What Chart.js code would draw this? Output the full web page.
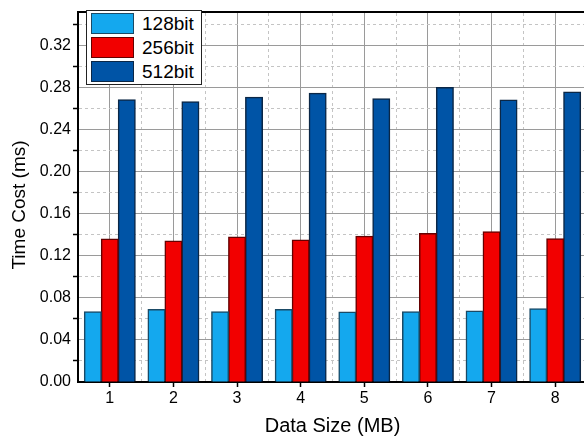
<!DOCTYPE html>
<html>
<head>
<meta charset="utf-8">
<script src="https://cdn.jsdelivr.net/npm/chart.js@4"></script>
<style>
    html, body { margin: 0; padding: 0; background: #fff; overflow: hidden; }
    #wrap { position: relative; width: 584px; height: 438px; overflow: hidden; }
    #chart { position: absolute; left: 0; top: 0; }
    #legend {
        position: absolute; left: 86px; top: 10px; width: 116px; height: 75px;
        border: 1px solid #222; background: #fff; box-sizing: border-box;
        font-family: 'Liberation Sans', Arial, sans-serif; font-size: 19px; color: #000;
    }
    .leg-row { position: absolute; left: 4px; height: 21px; display: flex; align-items: center; }
    .leg-box { width: 43px; height: 21px; box-sizing: border-box; border: 1.5px solid #222; }
    .leg-text { margin-left: 8px; line-height: 21px; }
</style>
</head>
<body>
<div id="wrap">
    <canvas id="chart" width="588" height="438"></canvas>
    <div id="legend"></div>
</div>
<script>
// Data
const categories = ['1', '2', '3', '4', '5', '6', '7', '8'];
const bit128 = [0.0668, 0.0690, 0.0668, 0.0690, 0.0665, 0.0668, 0.0675, 0.0697];
const bit256 = [0.1359, 0.1340, 0.1378, 0.1350, 0.1384, 0.1412, 0.1428, 0.1362];
const bit512 = [0.2682, 0.2664, 0.2705, 0.2745, 0.2692, 0.2799, 0.2680, 0.2757];
const seriesNames = ['128bit', '256bit', '512bit'];

const FONT = "'Liberation Sans', Arial, sans-serif";
const fills = ['#14A8EE', '#F20000', '#0054A6'];
const edges = ['#1a4a66', '#650000', '#0b2746'];

function isMajor(v) {
    const q = v / 0.04;
    return Math.abs(q - Math.round(q)) < 1e-6;
}

// y title drawn by hand so it can sit a bit below the axis centre, like the original
const yTitle = {
    id: 'yTitle',
    afterDraw(chart) {
        const ctx = chart.ctx;
        ctx.save();
        ctx.translate(20, 205);
        ctx.rotate(-Math.PI / 2);
        ctx.font = '19px ' + FONT;
        ctx.fillStyle = '#000';
        ctx.textAlign = 'center';
        ctx.textBaseline = 'middle';
        ctx.fillText('Time Cost (ms)', 0, 0);
        ctx.restore();
    }
};

const chart = new Chart(document.getElementById('chart'), {
    type: 'bar',
    data: {
        labels: categories,
        datasets: [bit128, bit256, bit512].map((d, i) => ({
            label: seriesNames[i],
            data: d,
            backgroundColor: fills[i],
            borderColor: edges[i],
            borderWidth: 1.5,
            inflateAmount: 0.5,
            barPercentage: 1,
            categoryPercentage: 0.8,
            xAxisID: 'x'
        }))
    },
    options: {
        responsive: false,
        animation: false,
        devicePixelRatio: 1,
        layout: { padding: { left: 0, right: 1, top: 0, bottom: 0 } },
        plugins: { legend: { display: false }, tooltip: { enabled: false } },
        scales: {
            x: {
                type: 'category',
                position: 'bottom',
                offset: true,
                grid: { offset: false, color: '#9a9a9a', lineWidth: 1, tickColor: '#000', tickWidth: 1.5, tickLength: 5 },
                border: { color: '#000', width: 2 },
                ticks: { color: '#000', padding: 2, font: { family: FONT, size: 16 } },
                title: { display: true, text: 'Data Size (MB)', color: '#000', padding: { top: 0, bottom: 0 }, font: { family: FONT, size: 20 } },
                afterFit: s => { s.height = 56; }
            },
            x2: {
                type: 'category',
                position: 'top',
                offset: true,
                labels: categories,
                grid: { offset: true, color: '#c4c4c4', lineWidth: 1, drawTicks: false },
                border: { color: '#000', width: 2, dash: ctx => ctx.tick ? [3, 3] : [] },
                ticks: { display: false },
                afterFit: s => { s.height = 8; }
            },
            y: {
                type: 'linear',
                min: 0,
                max: 0.352,
                grid: {
                    color: ctx => isMajor(ctx.tick.value) ? '#9a9a9a' : '#c4c4c4',
                    lineWidth: 1,
                    tickLength: 5,
                    tickWidth: 1.5,
                    tickColor: ctx => isMajor(ctx.tick.value) ? 'rgba(0,0,0,0)' : '#000'
                },
                border: { color: '#000', width: 2, dash: ctx => (ctx.tick && !isMajor(ctx.tick.value)) ? [3, 3] : [] },
                ticks: {
                    stepSize: 0.02,
                    includeBounds: false,
                    autoSkip: false,
                    color: '#000',
                    padding: 2,
                    font: { family: FONT, size: 16 },
                    callback: v => isMajor(v) ? v.toFixed(2) : ''
                },
                title: { display: false },
                afterFit: s => { s.width = 78; }
            }
        }
    },
    plugins: [yTitle]
});

// HTML legend built from datasets
const legend = document.getElementById('legend');
chart.data.datasets.forEach((ds, i) => {
    const row = document.createElement('div');
    row.className = 'leg-row';
    row.style.top = (2 + i * 24) + 'px';
    row.innerHTML = `<div class="leg-box" style="background:${ds.backgroundColor};border-color:${ds.borderColor}"></div><span class="leg-text">${ds.label}</span>`;
    legend.appendChild(row);
});
</script>
</body>
</html>
